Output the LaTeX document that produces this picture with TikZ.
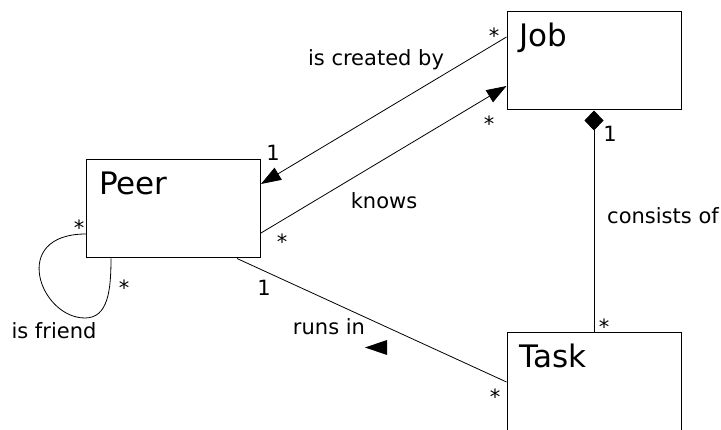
\documentclass[tikz,border=0pt]{standalone}
\usepackage{fontspec}
\setmainfont{DejaVu Sans}
\usepackage{tikz}
\usetikzlibrary{arrows.meta,calc}
\tikzset{
    classbox/.style={draw, line width=1pt, minimum width=174pt, minimum height=98pt, inner sep=0pt},
    classname/.style={anchor=base west, font=\fontsize{31}{36}\selectfont, inner sep=0pt},
    assoc/.style={line width=0.8pt},
    navarrow/.style={assoc, -{Triangle[length=20pt,width=14pt]}},
    composite/.style={assoc, {Diamond[length=20pt,width=19pt]}-},
    rolename/.style={font=\fontsize{21}{25}\selectfont, inner sep=0pt},
    mult/.style={font=\fontsize{21}{25}\selectfont, inner sep=0pt},
    dirmark/.style={fill=black}
}

\begin{document}
\begin{tikzpicture}[x=1pt, y=-1pt]
  \useasboundingbox (0,0) rectangle (721,430);

  % Classes
  \node[classbox] (peer) at (173.5,209) {};
  \node[classbox] (job) at (594,61) {};
  \begin{scope}
    \clip (0,0) rectangle (721,430);
    \node[classbox] (task) at (594,382) {};
  \end{scope}
  \node[classname] (peername) at ([xshift=13pt,yshift=-35pt]peer.north west) {Peer};
  \node[classname] (jobname) at ([xshift=13pt,yshift=-35pt]job.north west) {Job};
  \node[classname] (taskname) at ([xshift=13pt,yshift=-35pt]task.north west) {Task};

  % Associations between Peer and Job
  \draw[navarrow] ([yshift=24pt]job.west) -- ([yshift=25pt]peer.east);
  \draw[navarrow] ([yshift=-24pt]peer.east) -- ([yshift=-25pt]job.west);
  \node[rolename] (created) at (376,60) {is created by};
  \node[mult] (createdjob) at (494,36) {*};
  \node[mult] (createdpeer) at (273,153) {1};
  \node[rolename] (knows) at (384,201) {knows};
  \node[mult] (knowsjob) at (489,124) {*};
  \node[mult] (knowspeer) at (282,242) {*};

  % Peer runs in Task, reading direction marked by a triangle
  \draw[assoc] ([xshift=-24pt]peer.south east) -- (task.west);
  \node[rolename] (runsin) at (329,327) {runs in};
  \node[mult] (runspeer) at (264,288) {1};
  \node[mult] (runstask) at (495,397) {*};
  \coordinate (runsdir) at ($(runsin)+(36,20.5)$);
  \fill[dirmark] (runsdir) -- ++(22,-7.5) -- ++(0,15) -- cycle;

  % Job is composed of Tasks
  \draw[composite] (job.south) -- (task.north);
  \node[rolename] (consists) at (663,216) {consists of};
  \node[mult] (consistsjob) at (610,134) {1};
  \node[mult] (consiststask) at (604,327) {*};

  % Peer is friend of Peer
  \coordinate (friendloop) at (85,318);
  \draw[assoc] ([yshift=-25pt]peer.west) .. controls +(-77,0) and +(-45,0) .. (friendloop)
    .. controls +(23,0) and +(0,32) .. ([xshift=25pt]peer.south west);
  \node[rolename] (friend) at (54,331) {is friend};
  \node[mult] (friendleft) at (79,228) {*};
  \node[mult] (friendbottom) at (124,288) {*};
\end{tikzpicture}
\end{document}
